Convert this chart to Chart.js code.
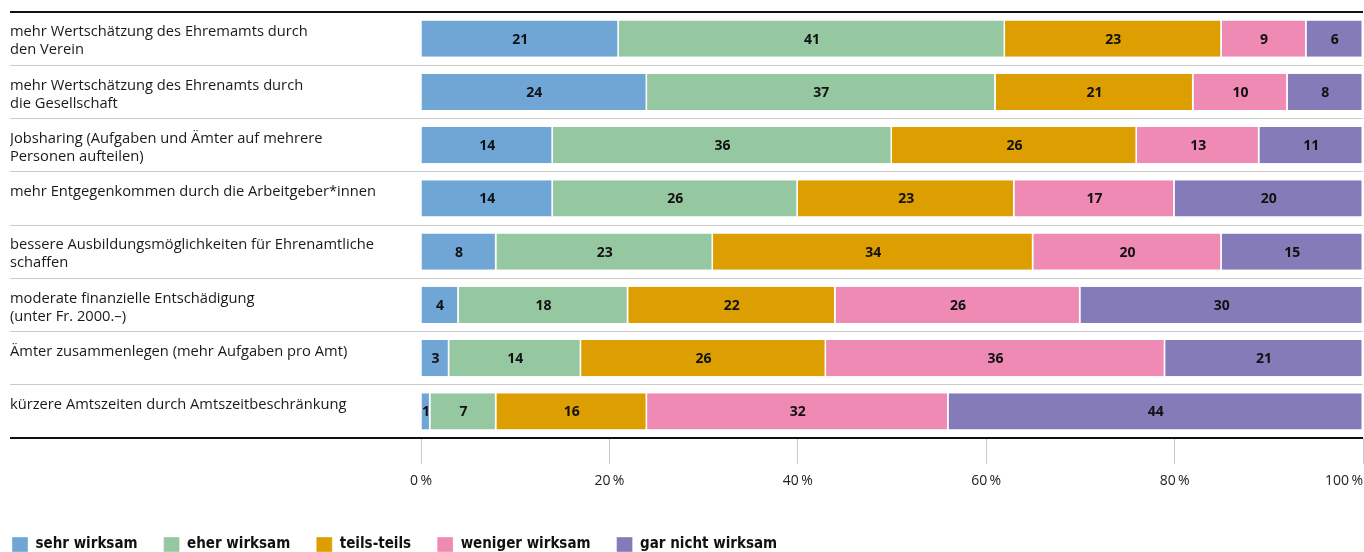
<!DOCTYPE html>
<html>
<head>
<meta charset="utf-8">
<script src="https://cdn.jsdelivr.net/npm/chart.js@4.4.1/dist/chart.umd.min.js"></script>
<style>
html,body{margin:0;padding:0;background:#fff;overflow:hidden;}
#wrap{position:relative;width:1364px;height:562px;}
</style>
</head>
<body>
<div id="wrap"><canvas id="c"></canvas></div>
<script>
const categories = [
  ['mehr Wertschätzung des Ehremamts durch', 'den Verein'],
  ['mehr Wertschätzung des Ehrenamts durch', 'die Gesellschaft'],
  ['Jobsharing (Aufgaben und Ämter auf mehrere', 'Personen aufteilen)'],
  ['mehr Entgegenkommen durch die Arbeitgeber*innen', ''],
  ['bessere Ausbildungsmöglichkeiten für Ehrenamtliche', 'schaffen'],
  ['moderate finanzielle Entschädigung', '(unter Fr. 2000.–)'],
  ['Ämter zusammenlegen (mehr Aufgaben pro Amt)', ''],
  ['kürzere Amtszeiten durch Amtszeitbeschränkung', '']
];
const seriesNames = ['sehr wirksam', 'eher wirksam', 'teils-teils', 'weniger wirksam', 'gar nicht wirksam'];
const sehrWirksam     = [21, 24, 14, 14, 8, 4, 3, 1];
const eherWirksam     = [41, 37, 36, 26, 23, 18, 14, 7];
const teilsTeils      = [23, 21, 26, 23, 34, 22, 26, 16];
const wenigerWirksam  = [9, 10, 13, 17, 20, 26, 36, 32];
const garNichtWirksam = [6, 8, 11, 20, 15, 30, 21, 44];
const xTickValues = [0, 20, 40, 60, 80, 100];
const tickSuffix = '\u2009%';

const seriesValues = [sehrWirksam, eherWirksam, teilsTeils, wenigerWirksam, garNichtWirksam];
const colors = ['#6fa6d6', '#95c8a1', '#dc9e00', '#ef8ab5', '#857bb8'];

const baseFont = "'Open Sans', 'Noto Sans', sans-serif";
const legendFont = "'Liberation Sans Narrow', 'DejaVu Sans Condensed', sans-serif";

const valueLabels = {
  id: 'valueLabels',
  afterDatasetsDraw(chart) {
    const ctx = chart.ctx;
    ctx.save();
    ctx.font = "bold 14px " + baseFont;
    ctx.fillStyle = '#111';
    ctx.textAlign = 'center';
    ctx.textBaseline = 'middle';
    chart.data.datasets.forEach((ds, di) => {
      const meta = chart.getDatasetMeta(di);
      meta.data.forEach((bar, i) => {
        const v = ds.data[i];
        const c = bar.getCenterPoint();
        ctx.fillText(String(v), c.x, c.y + 1);
      });
    });
    ctx.restore();
  }
};

const layoutTweaks = {
  id: 'layoutTweaks',
  afterLayout(chart) {
    if (chart.legend) chart.legend.left = -14;
  },
  beforeDraw(chart) {
    const s = chart.scales.x;
    if (!s || typeof s.getLabelItems !== 'function') return;
    const items = s.getLabelItems();
    const last = items[items.length - 1];
    if (last && last.options) {
      last.options.textAlign = 'right';
      if (last.options.translation) last.options.translation[0] = s.right;
    }
  }
};

new Chart(document.getElementById('c'), {
  type: 'bar',
  data: {
    labels: categories,
    datasets: seriesNames.map((name, k) => ({
      label: name,
      data: seriesValues[k],
      backgroundColor: colors[k],
      borderColor: '#ffffff',
      borderWidth: {top: 0, bottom: 0, left: 0, right: 1.5},
      borderSkipped: false,
      categoryPercentage: 1,
      barPercentage: 0.68
    }))
  },
  options: {
    indexAxis: 'y',
    responsive: true,
    maintainAspectRatio: false,
    animation: false,
    layout: {padding: {left: 10, right: 1, top: 12, bottom: 0}},
    scales: {
      x: {
        stacked: true,
        min: 0,
        max: 100,
        afterBuildTicks(scale) { scale.ticks = xTickValues.map(v => ({value: v})); },
        afterFit(scale) { scale.height = 73; scale.paddingLeft = 0; scale.paddingRight = 0; },
        ticks: {
          callback: v => v + tickSuffix,
          font: {family: baseFont, size: 14},
          color: '#222',
          padding: 9,
          maxRotation: 0
        },
        grid: {
          drawOnChartArea: false,
          drawTicks: true,
          tickLength: 26,
          color: '#c8c8c8',
          lineWidth: 1
        },
        border: {display: false}
      },
      y: {
        stacked: true,
        afterFit(scale) { scale.width = 411; scale.paddingTop = 0; scale.paddingBottom = 0; },
        ticks: {
          crossAlign: 'far',
          font: {family: baseFont, size: 14.7, lineHeight: 1.225},
          color: '#1a1a1a',
          padding: 0,
          labelOffset: 2.5
        },
        grid: {
          offset: true,
          drawOnChartArea: true,
          drawTicks: true,
          tickLength: 411,
          color: ctx => (ctx.type === 'scale' || ctx.index === 0) ? '#111' : '#cccccc',
          lineWidth: ctx => (ctx.type === 'scale' || ctx.index === 0) ? 2 : 1
        },
        border: {display: false}
      }
    },
    plugins: {
      legend: {
        position: 'bottom',
        align: 'start',
        labels: {
          boxWidth: 16,
          boxHeight: 15,
          padding: 26,
          color: '#111',
          font: {family: legendFont, size: 15, weight: 'bold'}
        }
      },
      tooltip: {enabled: false}
    }
  },
  plugins: [valueLabels, layoutTweaks]
});
</script>
</body>
</html>
